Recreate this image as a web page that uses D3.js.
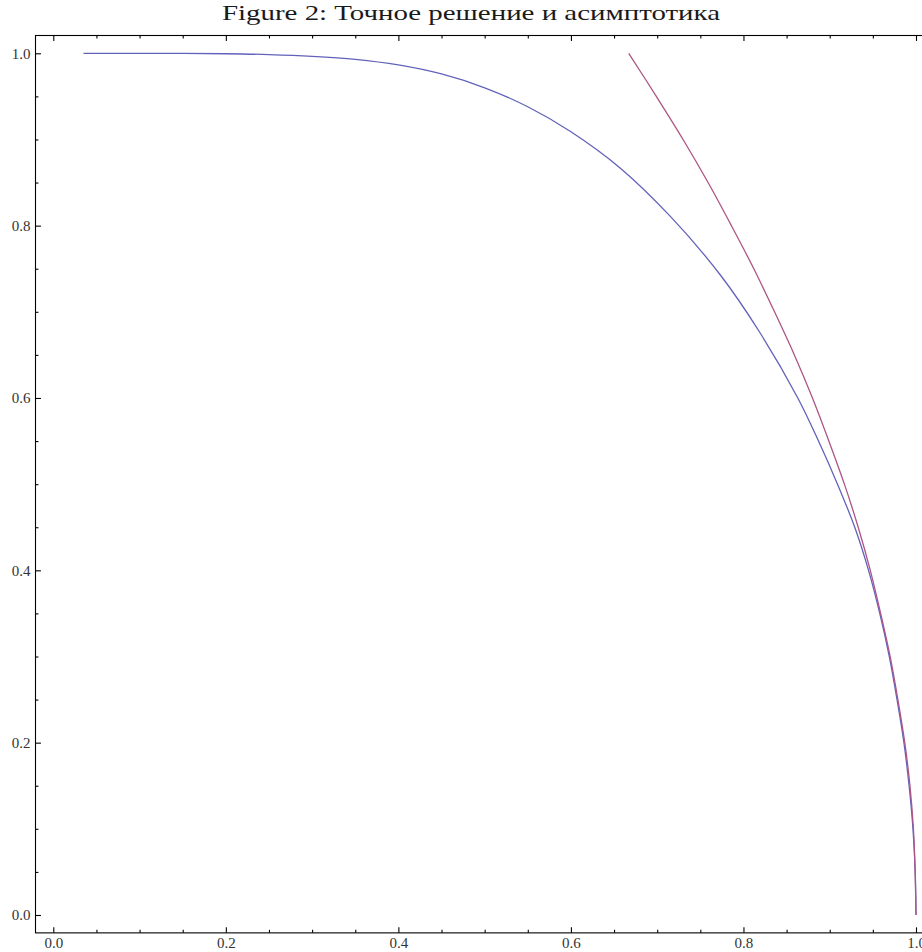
<!DOCTYPE html>
<html>
<head>
<meta charset="utf-8">
<script src="https://cdn.jsdelivr.net/npm/d3@7"></script>
<style>
  html, body { margin: 0; padding: 0; background: #fff; }
  svg { display: block; overflow: hidden; }
</style>
</head>
<body>
<div id="chart"></div>
<script>
// Точное решение (blue) and асимптотика (magenta)
var exactX = [0.035, 0.10, 0.15, 0.20, 0.25, 0.30, 0.35, 0.40, 0.45, 0.50, 0.55, 0.60, 0.657, 0.715, 0.773, 0.819, 0.863, 0.887, 0.909, 0.929, 0.945, 0.958, 0.969, 0.978, 0.986, 0.992, 0.9965, 0.9991, 1.0]
var exactY = [1.0, 1.0, 0.9999, 0.9995, 0.9985, 0.9965, 0.993, 0.9865, 0.976, 0.960, 0.938, 0.909, 0.867, 0.811, 0.743, 0.676, 0.60, 0.55, 0.50, 0.45, 0.40, 0.35, 0.30, 0.25, 0.20, 0.15, 0.10, 0.05, 0.0]

var asymY = [1.0, 0.95, 0.90, 0.85, 0.80, 0.75, 0.70, 0.65, 0.60, 0.55, 0.50, 0.45, 0.40, 0.35, 0.30, 0.25, 0.20, 0.15, 0.10, 0.05, 0.0]
var asymX = [0.667, 0.699, 0.730, 0.759, 0.786, 0.812, 0.836, 0.859, 0.880, 0.899, 0.917, 0.933, 0.947, 0.959, 0.970, 0.979, 0.987, 0.993, 0.997, 0.999, 1.0]

var majorTicks = [0, 0.2, 0.4, 0.6, 0.8, 1.0]
var minorTicks = [0.05, 0.1, 0.15, 0.25, 0.3, 0.35, 0.45, 0.5, 0.55, 0.65, 0.7, 0.75, 0.85, 0.9, 0.95]
var titleText = 'Figure 2: Точное решение и асимптотика'

var width = 922
var height = 952
var pad = 0.0207 // plot range padding around [0, 1]
var serif = '"Liberation Serif", "Times New Roman", serif'

var x = d3.scaleLinear().domain([0, 1]).range([53.3, 916])
var y = d3.scaleLinear().domain([0, 1]).range([915, 53.3])

var svg = d3.select('#chart').append('svg')
  .attr('width', width)
  .attr('height', height)

svg.append('text')
  .attr('x', 471)
  .attr('y', 20)
  .attr('text-anchor', 'middle')
  .attr('textLength', 498)
  .attr('lengthAdjust', 'spacingAndGlyphs')
  .style('font-family', serif)
  .style('font-size', '22px')
  .style('fill', '#1a1a1a')
  .text(titleText)

var x0 = x(-pad)
var x1 = x(1 + pad)
var y0 = y(-pad)
var y1 = y(1 + pad)

// frame
svg.append('rect')
  .attr('x', Math.round(x0) + 0.5)
  .attr('y', Math.round(y1) + 0.5)
  .attr('width', x1 - x0)
  .attr('height', y0 - y1)
  .attr('fill', 'none')
  .attr('stroke', '#000')
  .attr('stroke-width', 1.1)

function styleAxis (g) {
  g.select('.domain').remove()
  g.selectAll('line').attr('stroke', '#000').attr('stroke-width', 1.1)
  g.selectAll('text')
    .style('font-family', serif)
    .style('font-size', '15px')
    .style('fill', '#333')
}

// bottom axis, ticks pointing inward
svg.append('g')
  .attr('transform', 'translate(0,' + y0 + ')')
  .call(d3.axisBottom(x).tickValues(majorTicks).tickSize(-5.5).tickPadding(4.5).tickFormat(d3.format('.1f')))
  .call(styleAxis)
svg.append('g')
  .attr('transform', 'translate(0,' + y0 + ')')
  .call(d3.axisBottom(x).tickValues(minorTicks).tickSize(-3).tickFormat(''))
  .call(styleAxis)

// top ticks (mirrored)
svg.append('g')
  .attr('transform', 'translate(0,' + y1 + ')')
  .call(d3.axisTop(x).tickValues(majorTicks).tickSize(-5.5).tickFormat(''))
  .call(styleAxis)
svg.append('g')
  .attr('transform', 'translate(0,' + y1 + ')')
  .call(d3.axisTop(x).tickValues(minorTicks).tickSize(-3).tickFormat(''))
  .call(styleAxis)

// left axis
svg.append('g')
  .attr('transform', 'translate(' + x0 + ',0)')
  .call(d3.axisLeft(y).tickValues(majorTicks).tickSize(-5.5).tickPadding(5).tickFormat(d3.format('.1f')))
  .call(styleAxis)
svg.append('g')
  .attr('transform', 'translate(' + x0 + ',0)')
  .call(d3.axisLeft(y).tickValues(minorTicks).tickSize(-3).tickFormat(''))
  .call(styleAxis)

var line = d3.line()
  .x(function (d) { return x(d[0]) })
  .y(function (d) { return y(d[1]) })
  .curve(d3.curveCatmullRom.alpha(0.5))

var exact = exactX.map(function (v, i) { return [v, exactY[i]] })
var asym = asymX.map(function (v, i) { return [v, asymY[i]] })

svg.append('path')
  .datum(exact)
  .attr('d', line)
  .attr('fill', 'none')
  .attr('stroke', '#6262bb')
  .attr('stroke-width', 1.3)

svg.append('path')
  .datum(asym)
  .attr('d', line)
  .attr('fill', 'none')
  .attr('stroke', '#ac5587')
  .attr('stroke-width', 1.3)
</script>
</body>
</html>
